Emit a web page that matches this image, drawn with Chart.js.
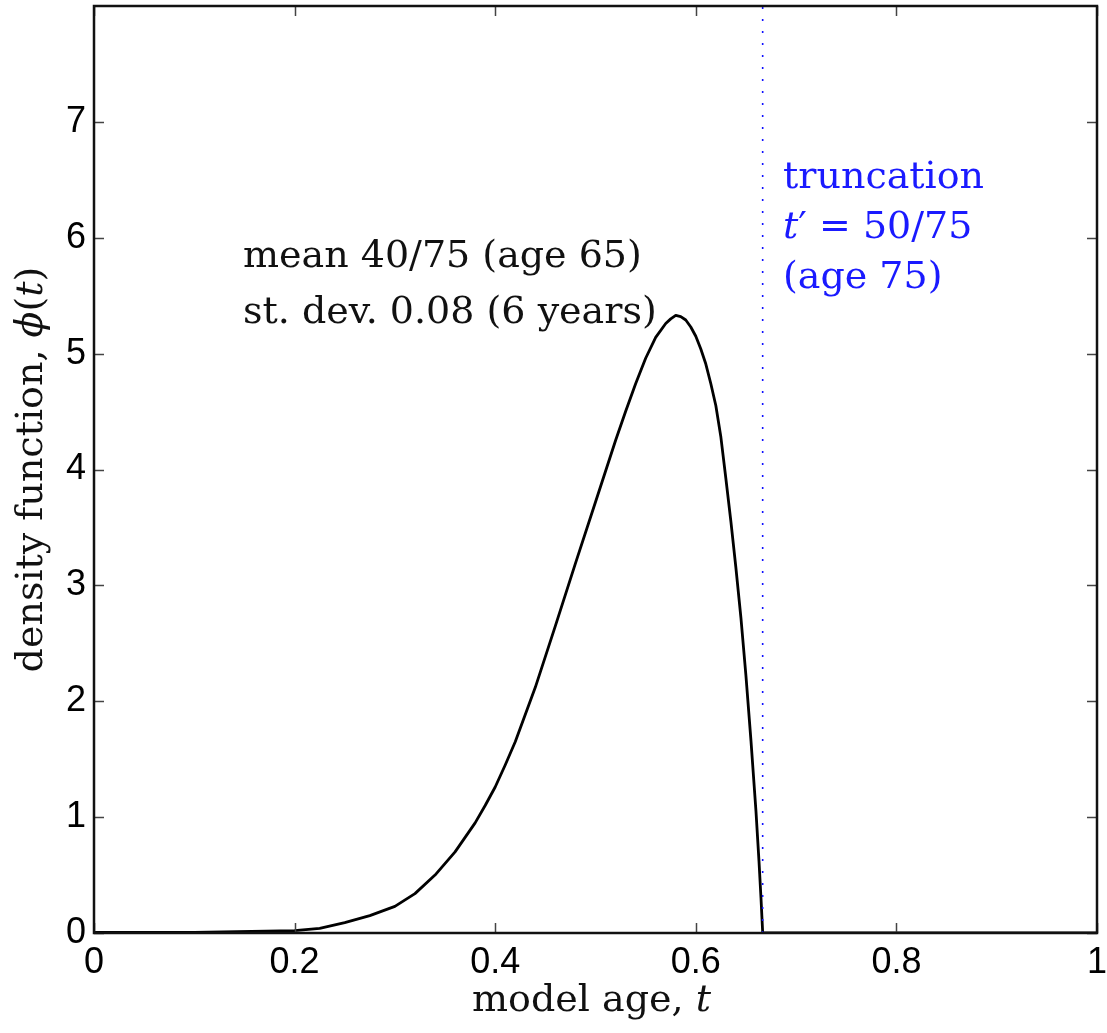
<!DOCTYPE html>
<html>
<head>
<meta charset="utf-8">
<script src="https://cdn.jsdelivr.net/npm/chart.js@4.4.1/dist/chart.umd.min.js"></script>
<style>
  html, body { margin: 0; padding: 0; background: #ffffff; }
  #wrap { width: 1107px; height: 1033px; position: relative; }
</style>
</head>
<body>
<div id="wrap"><canvas id="c"></canvas></div>
<script>
// ---- data ----
const tValues   = [0, 0.1, 0.2, 0.225, 0.25, 0.275, 0.3, 0.32, 0.34, 0.36, 0.38, 0.39, 0.40, 0.41, 0.42, 0.44, 0.46, 0.48, 0.50, 0.52, 0.53, 0.54, 0.55, 0.56, 0.57, 0.575, 0.58, 0.585, 0.59, 0.595, 0.60, 0.605, 0.61, 0.615, 0.62, 0.625, 0.63, 0.635, 0.64, 0.645, 0.65, 0.655, 0.66, 0.663, 0.665, 0.6667, 0.8, 1.0];
const phiValues = [0.005, 0.005, 0.02, 0.04, 0.09, 0.15, 0.23, 0.34, 0.50, 0.70, 0.95, 1.10, 1.26, 1.45, 1.65, 2.12, 2.65, 3.19, 3.72, 4.25, 4.50, 4.74, 4.96, 5.14, 5.26, 5.30, 5.33, 5.32, 5.29, 5.23, 5.15, 5.04, 4.91, 4.74, 4.55, 4.28, 3.92, 3.55, 3.15, 2.72, 2.22, 1.66, 1.05, 0.62, 0.30, 0, 0, 0];
const xTickValues = [0, 0.2, 0.4, 0.6, 0.8, 1];
const yTickValues = [0, 1, 2, 3, 4, 5, 6, 7];
const yMax = 8;
const truncationT = 50 / 75;
const xTitleRuns = [["model age, ", false], ["t", true]];
const yTitleRuns = [["density function, ", false], ["\u03D5", true], ["(", false], ["t", true], [")", false]];
const meanLines = [
  [["mean 40/75 (age 65)", false]],
  [["st. dev. 0.08 (6 years)", false]]
];
const truncLines = [
  [["truncation", false]],
  [["t", true], ["\u2032 = 50/75", false]],
  [["(age 75)", false]]
];

const SERIF = '"DejaVu Serif", "Liberation Serif", serif';
const SANS = '"Liberation Sans", Arial, Helvetica, sans-serif';

function drawRuns(ctx, runs, x, y, size, color, align) {
  ctx.save();
  ctx.fillStyle = color;
  ctx.textBaseline = 'alphabetic';
  ctx.textAlign = 'left';
  let total = 0;
  const widths = runs.map(([txt, it]) => {
    ctx.font = (it ? 'italic ' : '') + size + 'px ' + SERIF;
    const w = ctx.measureText(txt).width;
    total += w;
    return w;
  });
  let cx = align === 'center' ? x - total / 2 : x;
  runs.forEach(([txt, it], i) => {
    ctx.font = (it ? 'italic ' : '') + size + 'px ' + SERIF;
    ctx.fillText(txt, cx, y);
    cx += widths[i];
  });
  ctx.restore();
}

const framePlugin = {
  id: 'frame',
  afterDraw(chart) {
    const ctx = chart.ctx;
    const a = chart.chartArea;
    const xs = chart.scales.x, ys = chart.scales.y;
    ctx.save();
    // inward ticks
    ctx.strokeStyle = '#444444';
    ctx.lineWidth = 1.5;
    const L = 10;
    xTickValues.forEach(v => {
      const px = Math.round(xs.getPixelForValue(v)) + 0.5;
      ctx.beginPath();
      ctx.moveTo(px, a.bottom); ctx.lineTo(px, a.bottom - L);
      ctx.moveTo(px, a.top); ctx.lineTo(px, a.top + L);
      ctx.stroke();
    });
    yTickValues.forEach(v => {
      const py = Math.round(ys.getPixelForValue(v)) + 0.5;
      ctx.beginPath();
      ctx.moveTo(a.left, py); ctx.lineTo(a.left + L, py);
      ctx.moveTo(a.right, py); ctx.lineTo(a.right - L, py);
      ctx.stroke();
    });
    // box
    ctx.strokeStyle = '#111111';
    ctx.lineWidth = 2.5;
    ctx.strokeRect(a.left, a.top, a.right - a.left, a.bottom - a.top);
    ctx.restore();

    // annotations
    const size = 38;
    drawRuns(ctx, meanLines[0], 243, 267, size, '#111111', 'left');
    drawRuns(ctx, meanLines[1], 243, 323, size, '#111111', 'left');
    drawRuns(ctx, truncLines[0], 783, 188, size, '#1a1aff', 'left');
    drawRuns(ctx, truncLines[1], 783, 238, size, '#1a1aff', 'left');
    drawRuns(ctx, truncLines[2], 783, 288, size, '#1a1aff', 'left');

    // axis titles
    drawRuns(ctx, xTitleRuns, (a.left + a.right) / 2 - 4, 1011, size, '#111111', 'center');
    ctx.save();
    ctx.translate(42, (a.top + a.bottom) / 2);
    ctx.rotate(-Math.PI / 2);
    drawRuns(ctx, yTitleRuns, 0, 0, size, '#111111', 'center');
    ctx.restore();
  }
};

const curvePoints = tValues.map((t, i) => ({ x: t, y: phiValues[i] }));
const truncPoints = [{ x: truncationT, y: 0 }, { x: truncationT, y: yMax }];

new Chart(document.getElementById('c'), {
  type: 'line',
  data: {
    datasets: [
      {
        data: truncPoints,
        borderColor: '#1010ff',
        borderWidth: 1.6,
        borderDash: [2, 10],
        pointRadius: 0,
        fill: false,
        tension: 0
      },
      {
        data: curvePoints,
        borderColor: '#000000',
        borderWidth: 2.8,
        pointRadius: 0,
        fill: false,
        tension: 0,
        borderJoinStyle: 'round'
      }
    ]
  },
  options: {
    responsive: true,
    maintainAspectRatio: false,
    animation: false,
    devicePixelRatio: 1,
    layout: { padding: { top: 6, right: 10, left: 0, bottom: 0 } },
    plugins: { legend: { display: false }, tooltip: { enabled: false } },
    scales: {
      x: {
        type: 'linear',
        min: 0, max: 1,
        afterBuildTicks: s => { s.ticks = xTickValues.map(v => ({ value: v })); },
        afterFit: s => { s.height = 100; s.paddingLeft = 0; s.paddingRight = 0; s.paddingTop = 0; s.paddingBottom = 0; },
        grid: { display: false, drawTicks: false, tickLength: 0 },
        border: { display: false },
        ticks: {
          color: '#000000',
          font: { family: SANS, size: 36 },
          padding: 8,
          maxRotation: 0,
          autoSkip: false,
          callback: v => String(v)
        }
      },
      y: {
        type: 'linear',
        min: 0, max: yMax,
        afterBuildTicks: s => { s.ticks = yTickValues.map(v => ({ value: v })); },
        afterFit: s => { s.width = 94; s.paddingLeft = 0; s.paddingRight = 0; s.paddingTop = 0; s.paddingBottom = 0; },
        grid: { display: false, drawTicks: false, tickLength: 0 },
        border: { display: false },
        ticks: {
          color: '#000000',
          font: { family: SANS, size: 36 },
          padding: 8,
          autoSkip: false,
          callback: v => String(v)
        }
      }
    }
  },
  plugins: [framePlugin]
});
</script>
</body>
</html>
